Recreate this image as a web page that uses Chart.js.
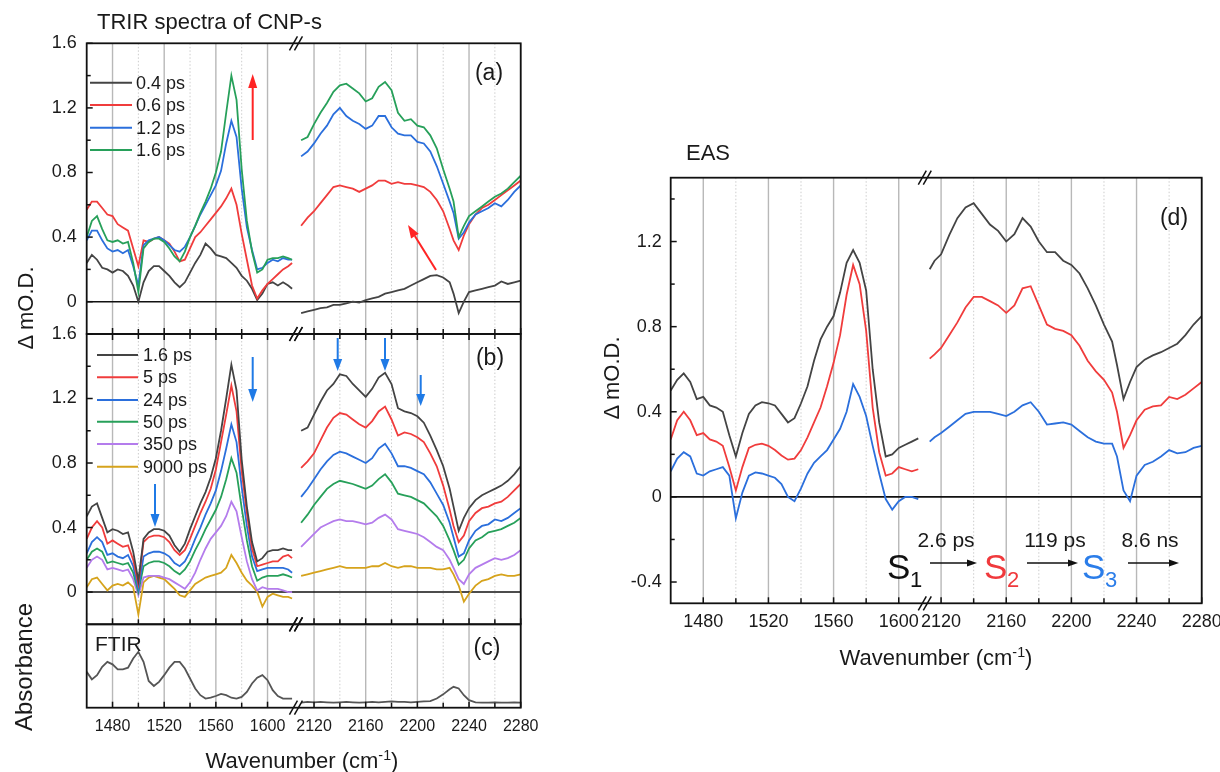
<!DOCTYPE html>
<html><head><meta charset="utf-8">
<script src="https://cdn.jsdelivr.net/npm/chart.js@4.4.1/dist/chart.umd.min.js"></script>
<style>
html,body{margin:0;padding:0;background:#fff;}
#wrap{position:relative;width:1220px;height:772px;overflow:hidden;font-family:"Liberation Sans",Arial,Helvetica,sans-serif;color:#1a1a1a;}
canvas{position:absolute;left:0;top:0;}
svg{position:absolute;left:0;top:0;}
.t{position:absolute;white-space:nowrap;line-height:1;}
.c{transform:translate(-50%,-50%);}
.l{transform:translate(0,-50%);}
.rot{transform:translate(-50%,-50%) rotate(-90deg);}
sup{font-size:0.65em;vertical-align:0.55em;}
</style></head>
<body><div id="wrap">
<canvas id="ca" width="1220" height="772"></canvas>
<canvas id="cb" width="1220" height="772"></canvas>
<canvas id="cc" width="1220" height="772"></canvas>
<canvas id="cd" width="1220" height="772"></canvas>
<svg id="ann" width="1220" height="772"></svg>

<div class="t l" style="left:97px;top:22px;font-size:22px;">TRIR spectra of CNP-s</div>
<div class="t c" style="left:489px;top:72px;font-size:23px;">(a)</div>
<div class="t c" style="left:490px;top:357px;font-size:23px;">(b)</div>
<div class="t c" style="left:487px;top:647px;font-size:23px;">(c)</div>
<div class="t c" style="left:1174px;top:217px;font-size:23px;">(d)</div>
<div class="t l" style="left:95px;top:643px;font-size:21px;">FTIR</div>
<div class="t l" style="left:686px;top:153px;font-size:22px;">EAS</div>
<div class="t rot" style="left:26px;top:308px;font-size:22px;">Δ mO.D.</div>
<div class="t rot" style="left:24px;top:667px;font-size:24px;">Absorbance</div>
<div class="t rot" style="left:612px;top:378px;font-size:22px;">Δ mO.D.</div>
<div class="t c" style="left:302px;top:760px;font-size:22px;">Wavenumber (cm<sup>-1</sup>)</div>
<div class="t c" style="left:936px;top:657px;font-size:22px;">Wavenumber (cm<sup>-1</sup>)</div>

<div id="legA"></div>
<div id="legB"></div>

<div class="t c" style="left:946px;top:539px;font-size:21px;">2.6 ps</div>
<div class="t c" style="left:1055px;top:539px;font-size:21px;">119 ps</div>
<div class="t c" style="left:1150px;top:539px;font-size:21px;">8.6 ns</div>
<div class="t l" style="left:887px;top:566px;font-size:35px;color:#111;">S</div>
<div class="t l" style="left:910px;top:580px;font-size:22px;color:#111;">1</div>
<div class="t l" style="left:984px;top:566px;font-size:35px;color:#f0393c;">S</div>
<div class="t l" style="left:1007px;top:580px;font-size:22px;color:#f0393c;">2</div>
<div class="t l" style="left:1082px;top:566px;font-size:35px;color:#2b7de9;">S</div>
<div class="t l" style="left:1105px;top:580px;font-size:22px;color:#2b7de9;">3</div>
</div>
<script>
// ---------- categories (wavenumbers, cm-1) ----------
const XL = [1460,1464,1468,1472,1476,1480,1484,1488,1492,1496,1500,1504,1508,1512,1516,1520,1524,1528,1532,1536,1540,1544,1548,1552,1556,1560,1564,1568,1572,1576,1580,1584,1588,1592,1596,1600,1604,1608,1612,1616,1619];
const XR = [2110,2115,2120,2125,2130,2135,2140,2145,2150,2155,2160,2165,2170,2175,2180,2185,2190,2195,2200,2205,2210,2215,2220,2225,2228,2232,2236,2240,2245,2250,2255,2260,2265,2270,2275,2280];
const DL = [1460,1464,1468,1472,1476,1480,1484,1488,1492,1496,1500,1504,1508,1512,1516,1520,1524,1528,1532,1536,1540,1544,1548,1552,1556,1560,1564,1568,1572,1576,1580,1584,1588,1592,1596,1600,1604,1608,1612];
const DR = [2113,2116,2120,2125,2130,2135,2140,2145,2150,2155,2160,2165,2170,2175,2180,2185,2190,2195,2200,2205,2210,2215,2220,2225,2228,2232,2236,2240,2245,2250,2255,2260,2265,2270,2275,2280];

// ---------- tick labels ----------
const X_MAJOR = [1480,1520,1560,1600,2120,2160,2200,2240,2280];
const X_MINOR = [1500,1540,1580,2140,2180,2220,2260];
const Y_MAJOR_AB = [0,0.4,0.8,1.2,1.6];
const Y_MINOR_AB = [0.2,0.6,1.0,1.4];
const Y_MAJOR_D = [-0.4,0,0.4,0.8,1.2];
const Y_MINOR_D = [-0.2,0.2,0.6,1.0,1.4];

// ---------- legend labels ----------
const LEG_A = ['0.4 ps','0.6 ps','1.2 ps','1.6 ps'];
const LEG_B = ['1.6 ps','5 ps','24 ps','50 ps','350 ps','9000 ps'];

// ---------- panel (a) ----------
const a_04_L = [0.24,0.29,0.26,0.21,0.20,0.18,0.20,0.19,0.16,0.10,0.00,0.12,0.19,0.22,0.22,0.19,0.16,0.12,0.09,0.12,0.18,0.24,0.29,0.36,0.33,0.29,0.28,0.27,0.24,0.21,0.16,0.13,0.08,0.01,0.05,0.11,0.12,0.10,0.12,0.10,0.08];
const a_04_R = [-0.07,-0.06,-0.05,-0.04,-0.035,-0.02,-0.02,-0.01,0.0,-0.005,0.01,0.02,0.03,0.05,0.06,0.07,0.08,0.10,0.12,0.14,0.16,0.165,0.15,0.12,0.05,-0.07,0.0,0.06,0.07,0.08,0.09,0.10,0.125,0.11,0.12,0.13];
const a_06_L = [0.57,0.62,0.62,0.58,0.54,0.53,0.48,0.46,0.44,0.33,0.22,0.38,0.37,0.39,0.40,0.38,0.36,0.31,0.25,0.26,0.33,0.40,0.43,0.47,0.51,0.55,0.59,0.64,0.70,0.60,0.42,0.26,0.10,0.02,0.07,0.11,0.14,0.17,0.20,0.22,0.24];
const a_06_R = [0.47,0.52,0.56,0.61,0.66,0.71,0.72,0.71,0.70,0.68,0.70,0.72,0.75,0.75,0.73,0.74,0.73,0.73,0.72,0.71,0.68,0.63,0.56,0.45,0.38,0.32,0.41,0.48,0.54,0.58,0.60,0.63,0.66,0.69,0.72,0.75];
const a_12_L = [0.38,0.44,0.44,0.38,0.33,0.31,0.32,0.30,0.32,0.22,0.10,0.35,0.38,0.39,0.40,0.38,0.35,0.32,0.31,0.34,0.40,0.47,0.54,0.60,0.66,0.72,0.81,0.98,1.12,1.02,0.70,0.46,0.32,0.20,0.21,0.24,0.26,0.25,0.27,0.26,0.26];
const a_12_R = [0.90,0.93,0.98,1.04,1.09,1.16,1.20,1.15,1.12,1.10,1.07,1.09,1.15,1.15,1.08,1.04,1.03,1.03,0.99,0.98,0.93,0.84,0.73,0.62,0.55,0.39,0.43,0.49,0.54,0.56,0.58,0.61,0.59,0.63,0.68,0.72];
const a_16_L = [0.40,0.50,0.53,0.45,0.38,0.37,0.38,0.36,0.37,0.24,0.06,0.33,0.37,0.39,0.39,0.37,0.33,0.28,0.25,0.31,0.40,0.47,0.55,0.62,0.70,0.80,0.93,1.17,1.40,1.25,0.82,0.50,0.31,0.18,0.20,0.26,0.27,0.27,0.28,0.27,0.26];
const a_16_R = [1.00,1.02,1.10,1.17,1.23,1.30,1.34,1.35,1.32,1.29,1.24,1.26,1.33,1.36,1.31,1.17,1.12,1.13,1.09,1.08,1.03,0.95,0.82,0.70,0.62,0.40,0.47,0.53,0.56,0.59,0.62,0.65,0.67,0.70,0.74,0.78];

// ---------- panel (b) ----------
const b_16_L = [0.47,0.53,0.55,0.46,0.37,0.39,0.38,0.36,0.37,0.25,0.07,0.33,0.37,0.39,0.39,0.38,0.35,0.29,0.25,0.30,0.39,0.47,0.55,0.62,0.71,0.83,1.00,1.20,1.41,1.25,0.82,0.53,0.31,0.19,0.21,0.25,0.26,0.26,0.27,0.26,0.26];
const b_16_R = [1.00,1.02,1.10,1.18,1.25,1.29,1.35,1.34,1.29,1.25,1.21,1.26,1.33,1.36,1.29,1.14,1.12,1.11,1.09,1.05,0.97,0.88,0.78,0.64,0.53,0.38,0.46,0.52,0.57,0.60,0.62,0.64,0.66,0.69,0.73,0.78];
const b_5_L = [0.33,0.40,0.44,0.40,0.30,0.32,0.30,0.28,0.29,0.20,0.05,0.31,0.34,0.35,0.35,0.34,0.31,0.26,0.23,0.26,0.33,0.41,0.49,0.56,0.64,0.76,0.93,1.10,1.28,1.12,0.75,0.49,0.27,0.16,0.17,0.18,0.19,0.19,0.22,0.23,0.21];
const b_5_R = [0.77,0.81,0.86,0.94,1.02,1.08,1.11,1.10,1.07,1.04,1.02,1.06,1.12,1.15,1.07,0.97,0.99,0.98,0.96,0.93,0.86,0.78,0.66,0.51,0.41,0.31,0.35,0.44,0.49,0.52,0.53,0.55,0.56,0.59,0.63,0.67];
const b_24_L = [0.24,0.31,0.34,0.31,0.23,0.24,0.22,0.21,0.23,0.16,0.02,0.22,0.24,0.25,0.25,0.24,0.22,0.18,0.16,0.19,0.25,0.33,0.40,0.48,0.55,0.63,0.75,0.89,1.04,0.93,0.65,0.41,0.22,0.13,0.14,0.15,0.15,0.15,0.15,0.14,0.12];
const b_24_R = [0.59,0.64,0.70,0.76,0.81,0.85,0.87,0.86,0.84,0.82,0.80,0.83,0.89,0.92,0.86,0.78,0.78,0.77,0.75,0.73,0.68,0.61,0.54,0.43,0.34,0.22,0.24,0.32,0.38,0.41,0.42,0.45,0.44,0.46,0.49,0.52];
const b_50_L = [0.20,0.25,0.27,0.25,0.18,0.19,0.18,0.17,0.18,0.12,0.00,0.16,0.18,0.19,0.19,0.18,0.16,0.13,0.11,0.14,0.19,0.26,0.32,0.39,0.45,0.51,0.59,0.70,0.83,0.74,0.52,0.32,0.16,0.07,0.09,0.10,0.10,0.10,0.11,0.10,0.09];
const b_50_R = [0.43,0.48,0.54,0.59,0.64,0.67,0.69,0.68,0.67,0.655,0.64,0.66,0.70,0.73,0.68,0.61,0.60,0.59,0.57,0.55,0.51,0.47,0.41,0.32,0.26,0.17,0.20,0.27,0.32,0.34,0.37,0.38,0.39,0.41,0.43,0.46];
const b_350_L = [0.15,0.20,0.22,0.20,0.14,0.15,0.14,0.13,0.14,0.08,-0.02,0.09,0.10,0.10,0.10,0.09,0.08,0.06,0.04,0.02,0.06,0.12,0.20,0.27,0.33,0.37,0.41,0.47,0.56,0.50,0.34,0.19,0.08,0.01,0.03,0.02,0.02,0.02,0.01,0.00,0.00];
const b_350_R = [0.28,0.32,0.36,0.40,0.42,0.44,0.45,0.44,0.44,0.43,0.42,0.43,0.46,0.48,0.45,0.39,0.38,0.37,0.36,0.34,0.31,0.28,0.26,0.20,0.15,0.08,0.05,0.11,0.15,0.17,0.19,0.21,0.20,0.21,0.23,0.26];
const b_9000_L = [0.03,0.08,0.09,0.05,0.01,0.04,0.05,0.04,0.06,0.03,-0.14,0.06,0.09,0.10,0.09,0.08,0.05,0.02,-0.02,-0.03,0.01,0.05,0.07,0.09,0.10,0.11,0.12,0.15,0.23,0.18,0.12,0.07,0.04,0.00,-0.09,-0.03,-0.01,-0.02,-0.03,-0.03,-0.04];
const b_9000_R = [0.10,0.11,0.12,0.13,0.14,0.15,0.16,0.15,0.15,0.15,0.15,0.16,0.16,0.18,0.16,0.15,0.16,0.16,0.15,0.15,0.15,0.14,0.14,0.15,0.11,0.04,-0.06,-0.01,0.04,0.07,0.08,0.10,0.11,0.10,0.10,0.11];

// ---------- panel (c) FTIR (arb. units) ----------
const c_ftir_L = [0.43,0.34,0.39,0.49,0.55,0.52,0.46,0.46,0.48,0.59,0.67,0.55,0.32,0.26,0.31,0.39,0.48,0.55,0.55,0.47,0.35,0.23,0.15,0.11,0.12,0.14,0.165,0.15,0.12,0.11,0.13,0.19,0.29,0.36,0.39,0.33,0.21,0.14,0.11,0.11,0.11];
const c_ftir_R = [0.06,0.07,0.065,0.07,0.065,0.06,0.065,0.07,0.065,0.06,0.065,0.07,0.065,0.07,0.075,0.07,0.07,0.065,0.07,0.075,0.08,0.11,0.16,0.22,0.25,0.23,0.15,0.09,0.065,0.06,0.06,0.065,0.06,0.06,0.065,0.06];

// ---------- panel (d) EAS ----------
const d_S1_L = [0.50,0.55,0.58,0.54,0.46,0.47,0.43,0.42,0.40,0.29,0.19,0.30,0.39,0.43,0.445,0.44,0.43,0.39,0.35,0.37,0.44,0.52,0.64,0.74,0.80,0.85,0.96,1.10,1.16,1.10,0.97,0.60,0.35,0.19,0.20,0.23,0.245,0.26,0.275];
const d_S1_R = [1.07,1.11,1.14,1.23,1.31,1.36,1.38,1.33,1.28,1.25,1.20,1.235,1.31,1.27,1.20,1.15,1.15,1.11,1.09,1.05,0.98,0.90,0.81,0.73,0.62,0.46,0.54,0.61,0.645,0.665,0.68,0.70,0.72,0.76,0.81,0.85];
const d_S2_L = [0.27,0.36,0.40,0.36,0.29,0.30,0.27,0.26,0.24,0.14,0.03,0.14,0.23,0.245,0.25,0.24,0.22,0.195,0.175,0.18,0.22,0.28,0.35,0.42,0.52,0.63,0.76,0.95,1.09,1.00,0.78,0.42,0.21,0.10,0.11,0.14,0.13,0.12,0.13];
const d_S2_R = [0.65,0.67,0.70,0.76,0.82,0.89,0.94,0.94,0.92,0.90,0.865,0.90,0.98,0.99,0.90,0.81,0.79,0.78,0.76,0.71,0.64,0.59,0.55,0.49,0.40,0.23,0.29,0.36,0.41,0.425,0.43,0.47,0.46,0.48,0.51,0.54];
const d_S3_L = [0.12,0.18,0.21,0.19,0.11,0.10,0.12,0.13,0.14,0.10,-0.10,0.02,0.10,0.115,0.11,0.10,0.09,0.06,0.00,-0.02,0.04,0.11,0.16,0.19,0.22,0.27,0.32,0.40,0.53,0.47,0.38,0.24,0.11,-0.01,-0.06,-0.02,0.00,0.00,-0.01];
const d_S3_R = [0.26,0.28,0.30,0.33,0.36,0.39,0.40,0.40,0.40,0.39,0.38,0.40,0.43,0.445,0.40,0.34,0.345,0.35,0.34,0.31,0.28,0.26,0.25,0.25,0.19,0.03,-0.02,0.10,0.15,0.165,0.19,0.22,0.205,0.21,0.23,0.24];

// ---------- colours ----------
const C_GRAY = '#444444', C_RED = '#f03c3c', C_BLUE = '#2b6fdc', C_GREEN = '#27a05a', C_PURPLE = '#b47cec', C_GOLD = '#d6a31c';
const FONT = '"Liberation Sans", Arial, Helvetica, sans-serif';

const framePlugin = {
  id: 'frame',
  beforeDatasetsDraw(chart, args, o) {
    const {ctx, chartArea: A} = chart;
    const x = chart.scales.x, y = chart.scales.y;
    const mp = w => (w <= o.lmax ? w : w - o.shift);
    ctx.save();
    ctx.lineWidth = 1; ctx.strokeStyle = '#cdcdcd'; ctx.setLineDash([1.5, 2]);
    for (const v of o.xMinor) { const px = x.getPixelForValue(mp(v)); ctx.beginPath(); ctx.moveTo(px, A.top); ctx.lineTo(px, A.bottom); ctx.stroke(); }
    ctx.setLineDash([]); ctx.lineWidth = 1.4; ctx.strokeStyle = '#b8b8b8';
    for (const v of o.xMajor) { const px = x.getPixelForValue(mp(v)); ctx.beginPath(); ctx.moveTo(px, A.top); ctx.lineTo(px, A.bottom); ctx.stroke(); }
    if (o.zero) {
      const py = y.getPixelForValue(0);
      ctx.strokeStyle = '#111'; ctx.lineWidth = 1.6;
      ctx.beginPath(); ctx.moveTo(A.left, py); ctx.lineTo(A.right, py); ctx.stroke();
    }
    ctx.restore();
  },
  afterDatasetsDraw(chart, args, o) {
    const {ctx, chartArea: A} = chart;
    const x = chart.scales.x, y = chart.scales.y;
    const mp = w => (w <= o.lmax ? w : w - o.shift);
    ctx.save();
    ctx.strokeStyle = '#111'; ctx.lineWidth = 1.8;
    ctx.strokeRect(A.left, A.top, A.right - A.left, A.bottom - A.top);
    ctx.lineWidth = 1.5;
    const seg = (x1, y1, x2, y2) => { ctx.beginPath(); ctx.moveTo(x1, y1); ctx.lineTo(x2, y2); ctx.stroke(); };
    for (const v of o.yMajor) { const py = y.getPixelForValue(v); seg(A.left, py, A.left + 6, py); }
    for (const v of o.yMinor) { const py = y.getPixelForValue(v); seg(A.left, py, A.left + 4, py); }
    for (const v of o.xMajor) { const px = x.getPixelForValue(mp(v)); seg(px, A.bottom, px, A.bottom - 6); if (o.topTicks) seg(px, A.top, px, A.top + 6); }
    for (const v of o.xMinor) { const px = x.getPixelForValue(mp(v)); seg(px, A.bottom, px, A.bottom - 5); if (o.topTicks) seg(px, A.top, px, A.top + 5); }
    const bx = x.getPixelForValue(o.lmax);
    for (const yy of [A.top, A.bottom]) {
      for (const d of [-2.5, 2.5]) seg(bx + d - 4, yy + 7, bx + d + 4, yy - 7);
    }
    ctx.restore();
  }
};

function fmtY(v) { return v === 0 ? '0' : v.toFixed(1); }

function makeChart(id, o) {
  const mp = w => (w <= o.lmax ? w : w - o.shift);
  const datasets = [];
  o.series.forEach((s, k) => {
    const ord = o.series.length - k;
    datasets.push({data: s.xl.map((w, i) => ({x: mp(w), y: s.yl[i]})), borderColor: s.color, borderWidth: 1.8, pointRadius: 0, fill: false, tension: 0, order: ord});
    datasets.push({data: s.xr.map((w, i) => ({x: mp(w), y: s.yr[i]})), borderColor: s.color, borderWidth: 1.8, pointRadius: 0, fill: false, tension: 0, order: ord});
  });
  return new Chart(document.getElementById(id), {
    type: 'line',
    data: {datasets},
    options: {
      responsive: false, animation: false, events: [],
      layout: {padding: o.pad, autoPadding: false},
      plugins: {legend: {display: false}, tooltip: {enabled: false},
        frame: {lmax: o.lmax, shift: o.shift, xMajor: X_MAJOR, xMinor: X_MINOR, yMajor: o.yMajor, yMinor: o.yMinor, zero: o.zero, topTicks: o.topTicks}},
      scales: {
        x: {type: 'linear', min: 1460, max: 2280 - o.shift,
          afterBuildTicks: ax => { ax.ticks = X_MAJOR.map(v => ({value: mp(v)})); },
          ticks: {display: o.xLabels, autoSkip: false, maxRotation: 0, minRotation: 0, padding: o.xPad, color: '#1a1a1a',
            font: {family: FONT, size: o.xFont}, callback: v => String(v > o.lmax ? v + o.shift : v)},
          grid: {display: false, drawTicks: false}, border: {display: false},
          afterFit: ax => { ax.height = o.xH; ax.paddingLeft = 0; ax.paddingRight = 0; }},
        y: {type: 'linear', min: o.ymin, max: o.ymax,
          afterBuildTicks: ax => { ax.ticks = o.yMajor.map(v => ({value: v})); },
          ticks: {display: o.yLabels, padding: o.yPad, color: '#1a1a1a', font: {family: FONT, size: o.yFont}, callback: v => fmtY(v)},
          grid: {display: false, drawTicks: false}, border: {display: false},
          afterFit: ax => { ax.width = o.yW; ax.paddingTop = 0; ax.paddingBottom = 0; }}
      }
    },
    plugins: [framePlugin]
  });
}

const LEFT = {lmax: 1622, shift: 484, yW: 86.7, xFont: 16, yFont: 18, yPad: 10};

makeChart('ca', Object.assign({}, LEFT, {
  pad: {left: 0, top: 43.3, right: 1220 - 520.7, bottom: 772 - 334},
  ymin: -0.2, ymax: 1.6, yMajor: Y_MAJOR_AB, yMinor: Y_MINOR_AB, zero: true, topTicks: false,
  xLabels: false, xH: 0, xPad: 0, yLabels: true,
  series: [
    {xl: XL, yl: a_04_L, xr: XR, yr: a_04_R, color: C_GRAY},
    {xl: XL, yl: a_06_L, xr: XR, yr: a_06_R, color: C_RED},
    {xl: XL, yl: a_12_L, xr: XR, yr: a_12_R, color: C_BLUE},
    {xl: XL, yl: a_16_L, xr: XR, yr: a_16_R, color: C_GREEN}
  ]}));

makeChart('cb', Object.assign({}, LEFT, {
  pad: {left: 0, top: 334, right: 1220 - 520.7, bottom: 772 - 624.3},
  ymin: -0.2, ymax: 1.6, yMajor: Y_MAJOR_AB, yMinor: Y_MINOR_AB, zero: true, topTicks: true,
  xLabels: false, xH: 0, xPad: 0, yLabels: true,
  series: [
    {xl: XL, yl: b_9000_L, xr: XR, yr: b_9000_R, color: C_GOLD},
    {xl: XL, yl: b_350_L, xr: XR, yr: b_350_R, color: C_PURPLE},
    {xl: XL, yl: b_50_L, xr: XR, yr: b_50_R, color: C_GREEN},
    {xl: XL, yl: b_24_L, xr: XR, yr: b_24_R, color: C_BLUE},
    {xl: XL, yl: b_5_L, xr: XR, yr: b_5_R, color: C_RED},
    {xl: XL, yl: b_16_L, xr: XR, yr: b_16_R, color: C_GRAY}
  ]}));

makeChart('cc', Object.assign({}, LEFT, {
  pad: {left: 0, top: 624.3, right: 1220 - 520.7, bottom: 772 - 707.7 - 40},
  ymin: 0, ymax: 1, yMajor: [], yMinor: [], zero: false, topTicks: false,
  xLabels: true, xH: 40, xPad: 9, yLabels: false,
  series: [
    {xl: XL, yl: c_ftir_L, xr: XR, yr: c_ftir_R, color: '#555555'}
  ]}));

makeChart('cd', {
  lmax: 1616, shift: 494, yW: 60, xFont: 18, yFont: 18, yPad: 9,
  pad: {left: 670.7 - 60, top: 177.7, right: 1220 - 1201.7, bottom: 772 - 603.3 - 40},
  ymin: -0.5, ymax: 1.5, yMajor: Y_MAJOR_D, yMinor: Y_MINOR_D, zero: true, topTicks: false,
  xLabels: true, xH: 40, xPad: 8, yLabels: true,
  series: [
    {xl: DL, yl: d_S3_L, xr: DR, yr: d_S3_R, color: C_BLUE},
    {xl: DL, yl: d_S2_L, xr: DR, yr: d_S2_R, color: C_RED},
    {xl: DL, yl: d_S1_L, xr: DR, yr: d_S1_R, color: C_GRAY}
  ]});

// ---------- annotations: legends, arrows ----------
const svg = document.getElementById('ann');
const NS = 'http://www.w3.org/2000/svg';
function sLine(x1, y1, x2, y2, col, w) {
  const l = document.createElementNS(NS, 'line');
  l.setAttribute('x1', x1); l.setAttribute('y1', y1); l.setAttribute('x2', x2); l.setAttribute('y2', y2);
  l.setAttribute('stroke', col); l.setAttribute('stroke-width', w); svg.appendChild(l);
}
function arrow(x1, y1, x2, y2, col, w, hl, hw) {
  const dx = x2 - x1, dy = y2 - y1, L = Math.hypot(dx, dy), ux = dx / L, uy = dy / L;
  const bx = x2 - ux * hl, by = y2 - uy * hl;
  sLine(x1, y1, bx, by, col, w);
  const p = document.createElementNS(NS, 'polygon');
  p.setAttribute('points', `${x2},${y2} ${bx - uy * hw},${by + ux * hw} ${bx + uy * hw},${by - ux * hw}`);
  p.setAttribute('fill', col); svg.appendChild(p);
}
function legend(el, labels, colors, x1, x2, tx, ys) {
  const box = document.getElementById(el);
  labels.forEach((lab, i) => {
    sLine(x1, ys[i], x2, ys[i], colors[i], 2);
    const d = document.createElement('div');
    d.className = 't l'; d.style.left = tx + 'px'; d.style.top = ys[i] + 'px'; d.style.fontSize = '18px';
    d.textContent = lab; box.appendChild(d);
  });
}
legend('legA', LEG_A, [C_GRAY, C_RED, C_BLUE, C_GREEN], 90, 132, 136, [82.7, 105, 127.7, 150]);
legend('legB', LEG_B, [C_GRAY, C_RED, C_BLUE, C_GREEN, C_PURPLE, C_GOLD], 97, 138, 143, [355, 377.3, 400, 421.7, 444, 466.7]);

const RED_A = '#ff2424', BLUE_A = '#1f7ae6';
arrow(252.7, 140, 252.7, 74, RED_A, 2, 14, 4.5);
arrow(436, 270, 408, 225, RED_A, 2, 13, 4.5);
arrow(252.7, 357, 252.7, 402, BLUE_A, 2, 13, 4.5);
arrow(155, 484, 155, 527, BLUE_A, 2, 13, 4.5);
arrow(337.7, 338, 337.7, 371, BLUE_A, 2, 12, 4.5);
arrow(385, 338, 385, 371, BLUE_A, 2, 12, 4.5);
arrow(420.7, 375, 420.7, 406, BLUE_A, 2, 12, 4.5);
arrow(930, 563, 977, 563, '#111', 1.5, 10, 3.5);
arrow(1027, 563, 1078, 563, '#111', 1.5, 10, 3.5);
arrow(1128, 563, 1179, 563, '#111', 1.5, 10, 3.5);
</script>
</body></html>
